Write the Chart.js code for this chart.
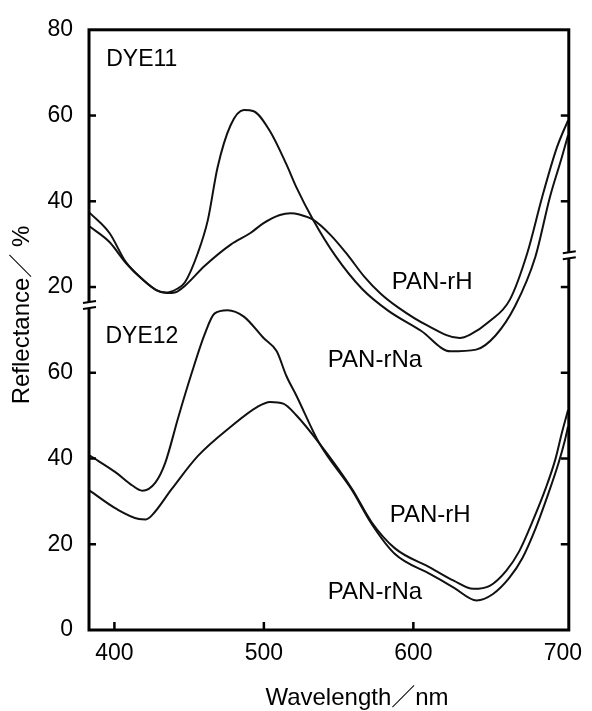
<!DOCTYPE html>
<html><head><meta charset="utf-8">
<script src="https://cdn.jsdelivr.net/npm/chart.js@4/dist/chart.umd.min.js"></script>
<style>html,body{margin:0;padding:0;background:#fff;}</style>
</head><body>
<canvas id="c" width="592" height="711"></canvas>
<script>
// ---- data ----
// DYE11 (upper panel, its own reflectance axis 20–80 %)
const dye11NaWl = [383.5, 396.7, 407.7, 418.6, 428, 434.2, 442, 447.2, 455.9, 462.5, 469, 477.8, 486.6, 493.2, 504.2, 515.1, 521.7, 532.9, 548, 565.6, 583.1, 605.1, 624.8, 642, 655, 668, 681.6, 691.4, 699.3, 703.5];
const dye11NaR  = [37.3, 32.6, 25.8, 21.9, 19.3, 18.7, 19.6, 21.1, 28.0, 35.6, 47.9, 57.8, 61.3, 61.0, 56.3, 48.6, 43.3, 35.7, 27.2, 19.6, 14.5, 9.8, 5.0, 5.4, 8.7, 15.5, 27.0, 41.0, 50.2, 55.4];
const dye11HWl  = [383.5, 396.7, 407.7, 418.6, 428, 435, 441, 447.2, 460.3, 477.8, 491, 499.8, 510.7, 518, 523.8, 532.9, 545, 556, 567, 578, 590, 609, 631, 638, 651, 664.5, 676.3, 686.2, 696, 703.5];
const dye11HR   = [34.1, 30.5, 25.6, 21.8, 19.3, 18.6, 18.8, 20.3, 24.9, 29.9, 32.6, 34.9, 36.8, 37.2, 36.9, 35.7, 32.0, 27.5, 22.5, 18.5, 15.2, 11.1, 8.1, 8.9, 12.0, 17.0, 28.0, 41.0, 52.5, 58.9];
// DYE12 (lower panel, axis 0–60 %)
const dye12NaWl = [383.5, 401.1, 412, 418.6, 427.4, 434, 442.8, 451.5, 460.3, 466.9, 475.7, 486.6, 499.8, 508.6, 515, 521.7, 537, 559, 572, 587.5, 611.6, 627, 642.3, 653.3, 664.3, 673, 681.8, 690.6, 697.2, 701.5, 703.5];
const dye12NaR  = [40.7, 36.7, 33.7, 32.5, 34.4, 39.0, 49.7, 59.7, 68.9, 73.8, 74.6, 73.1, 68.1, 65.0, 59.3, 54.7, 43.6, 32.6, 24.8, 17.8, 13.0, 9.9, 6.9, 8.4, 12.2, 16.8, 23.7, 32.1, 39.0, 44.4, 47.5];
const dye12HWl  = [383.5, 401.1, 416.4, 421, 425.2, 438.4, 455.9, 477.8, 495.4, 504.2, 513, 521.7, 537, 559, 572, 587.5, 611.6, 627, 640.1, 651.1, 662.1, 670.9, 679.6, 688.4, 695, 699.3, 703.5];
const dye12HR   = [32.5, 28.3, 25.9, 25.8, 26.8, 32.9, 40.6, 47.4, 52.0, 53.2, 52.8, 50.1, 43.6, 32.9, 25.2, 19.1, 14.5, 11.5, 9.6, 10.3, 13.8, 18.4, 25.2, 32.9, 39.8, 45.9, 51.3];

const upperOffset = 60;               // DYE11 panel sits 60 units above DYE12 on the shared axis
const xTickValues = [400, 500, 600, 700];
const yTickValues = [0, 20, 40, 60, 80, 100, 120, 140];
const yTickLabels = ['0', '20', '40', '60', '20', '40', '60', '80'];

const FONT = '"Liberation Sans", Arial, "Noto Sans CJK JP", sans-serif';
const CJK = '"Liberation Sans", "Noto Sans CJK JP", sans-serif';

function pts(wl, r, off) { return wl.map((w, i) => ({ x: w, y: r[i] + off })); }

const annotations = [
  { text: 'DYE11',   x: 394.5, y: 131.5, size: 23 },
  { text: 'PAN-rH',  x: 585.5, y: 79.6,  size: 24 },
  { text: 'PAN-rNa', x: 542.8, y: 61.4,  size: 24 },
  { text: 'DYE12',   x: 394.0, y: 67.0,  size: 23 },
  { text: 'PAN-rH',  x: 584.2, y: 25.2,  size: 24 },
  { text: 'PAN-rNa', x: 542.8, y: 7.3,   size: 24 }
];
const breakLeftAt = 75.8, breakRightAt = 87.4;
const targetArea = { left: 89, top: 21, right: 577, bottom: 630 };

const framePlugin = {
  id: 'frame',
  afterDatasetsDraw(chart) {
    const ctx = chart.ctx, ca = chart.chartArea;
    const xs = chart.scales.x, ys = chart.scales.y;
    ctx.save();
    ctx.strokeStyle = '#000';
    ctx.lineCap = 'butt';
    const line = (x1, y1, x2, y2) => { ctx.beginPath(); ctx.moveTo(x1, y1); ctx.lineTo(x2, y2); ctx.stroke(); };
    ctx.lineWidth = 3;
    ctx.strokeRect(ca.left, ca.top, ca.right - ca.left, ca.bottom - ca.top);
    ctx.lineWidth = 2.5;
    yTickValues.forEach(v => {
      const py = ys.getPixelForValue(v);
      if (py < ca.top + 5 || py > ca.bottom - 5) return;
      line(ca.left, py, ca.left + 7, py);
      line(ca.right, py, ca.right - 8, py);
    });
    xTickValues.forEach(v => {
      const px = xs.getPixelForValue(v);
      if (px < ca.left + 10 || px > ca.right - 10) return;
      line(px, ca.bottom, px, ca.bottom - 8);
    });
    const brk = (x, y) => {
      ctx.fillStyle = '#fff';
      ctx.fillRect(x - 3, y - 3, 6, 6);
      ctx.lineWidth = 2;
      line(x - 6, y - 2, x + 7, y - 4);
      line(x - 6, y + 4, x + 7, y + 2);
    };
    brk(ca.left, ys.getPixelForValue(breakLeftAt));
    brk(ca.right, ys.getPixelForValue(breakRightAt));
    ctx.fillStyle = '#000';
    ctx.textBaseline = 'alphabetic';
    ctx.textAlign = 'left';
    annotations.forEach(a => {
      ctx.font = a.size + 'px ' + FONT;
      ctx.fillText(a.text, xs.getPixelForValue(a.x), ys.getPixelForValue(a.y));
    });
    ctx.font = '24px ' + CJK;
    ctx.textAlign = 'center';
    ctx.fillText('Wavelength／nm', 357, 705);
    ctx.save();
    ctx.translate(29, 315);
    ctx.rotate(-Math.PI / 2);
    ctx.fillText('Reflectance／ %', 0, 0);
    ctx.restore();
    ctx.restore();
  }
};

const ds = (label, data) => ({ label, data, borderColor: '#111', borderWidth: 2, pointRadius: 0, fill: false, cubicInterpolationMode: 'monotone' });

const pad = { top: 21, right: 15, left: 0, bottom: 0 };
const chart = new Chart(document.getElementById('c'), {
  type: 'line',
  data: {
    datasets: [
      ds('DYE11 PAN-rNa', pts(dye11NaWl, dye11NaR, upperOffset)),
      ds('DYE11 PAN-rH',  pts(dye11HWl,  dye11HR,  upperOffset)),
      ds('DYE12 PAN-rNa', pts(dye12NaWl, dye12NaR, 0)),
      ds('DYE12 PAN-rH',  pts(dye12HWl,  dye12HR,  0))
    ]
  },
  options: {
    responsive: false, animation: false, devicePixelRatio: 1,
    layout: { autoPadding: false, padding: pad },
    plugins: { legend: { display: false }, tooltip: { enabled: false } },
    scales: {
      x: {
        type: 'linear', min: 383, max: 704,
        afterFit(s) { s.height = 711 - targetArea.bottom - pad.bottom; },
        afterBuildTicks(s) { s.ticks = xTickValues.map(v => ({ value: v })); },
        grid: { display: false, drawTicks: false }, border: { display: false },
        ticks: { font: { family: FONT, size: 23 }, color: '#000', padding: 10, maxRotation: 0, autoSkip: false }
      },
      y: {
        type: 'linear', min: 0, max: 140,
        afterFit(s) { s.width = targetArea.left - pad.left; },
        afterBuildTicks(s) { s.ticks = yTickValues.map(v => ({ value: v })); },
        grid: { display: false, drawTicks: false }, border: { display: false },
        ticks: { font: { family: FONT, size: 23 }, color: '#000', padding: 16, autoSkip: false,
                 callback: (v) => yTickLabels[yTickValues.indexOf(v)] }
      }
    }
  },
  plugins: [framePlugin]
});
// nudge the layout padding so the plot frame lands where the reference has it
for (let k = 0; k < 3; k++) {
  const ca = chart.chartArea;
  pad.top += targetArea.top - ca.top;
  pad.right += ca.right - targetArea.right;
  chart.options.layout.padding = Object.assign({}, pad);
  chart.update();
}
</script>
</body></html>
